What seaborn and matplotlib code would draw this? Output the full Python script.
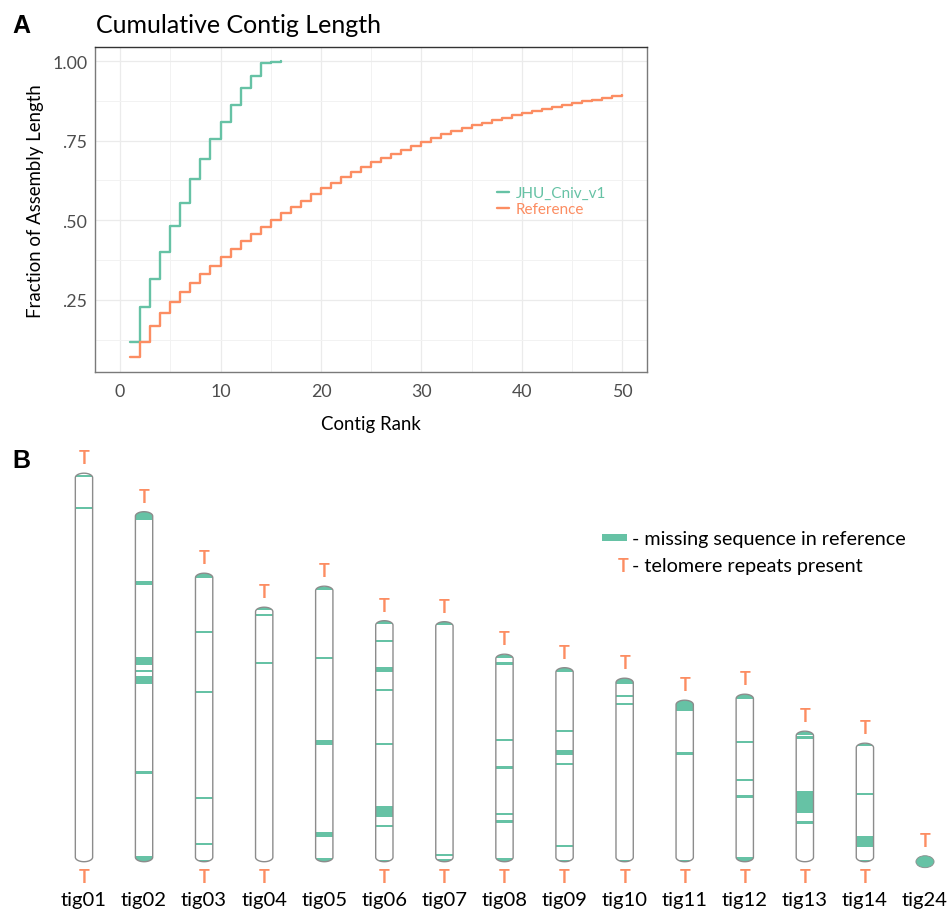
import matplotlib
matplotlib.use("Agg")
import matplotlib.pyplot as plt
from matplotlib.patches import Polygon, Rectangle, Ellipse
import numpy as np
import pandas as pd
import seaborn as sns

GREEN = "#66c2a5"
ORANGE = "#fc8d62"

# ---- panel A data: cumulative fraction of assembly length by contig rank
jhu_rank = list(range(1, 17))
jhu_frac = [0.119, 0.227, 0.316, 0.402, 0.481, 0.554, 0.630, 0.692,
            0.755, 0.810, 0.863, 0.914, 0.954, 0.993, 0.996, 1.000]

ref_rank = list(range(1, 51))
ref_frac = [0.071, 0.119, 0.169, 0.209, 0.243, 0.274, 0.303, 0.332, 0.358, 0.384,
            0.410, 0.434, 0.457, 0.478, 0.501, 0.522, 0.543, 0.562, 0.583, 0.600,
            0.617, 0.636, 0.653, 0.668, 0.682, 0.697, 0.708, 0.721, 0.734, 0.747,
            0.759, 0.770, 0.781, 0.790, 0.798, 0.806, 0.815, 0.822, 0.830, 0.836,
            0.843, 0.849, 0.856, 0.862, 0.868, 0.874, 0.879, 0.884, 0.889, 0.893]

# ---- panel B data: contig lengths (Mb) and missing-sequence bands (Mb from top)
contigs = ["tig01", "tig02", "tig03", "tig04", "tig05", "tig06", "tig07", "tig08",
           "tig09", "tig10", "tig11", "tig12", "tig13", "tig14", "tig24"]
lengths = [7.77, 7.00, 5.77, 5.09, 5.51, 4.82, 4.80, 4.15,
           3.88, 3.67, 3.23, 3.35, 2.61, 2.37, 0.24]
missing = [
    [(0.03, 0.07), (0.67, 0.71)],
    [(0, 0.17), (1.38, 1.47), (2.91, 3.06), (3.17, 3.21), (3.29, 3.45), (5.20, 5.23), (6.88, 7.00)],
    [(0, 0.10), (1.15, 1.19), (2.35, 2.39), (4.48, 4.51), (5.40, 5.44), (5.73, 5.77)],
    [(0, 0.06), (0.13, 0.17), (1.10, 1.14)],
    [(0.02, 0.07), (1.42, 1.46), (3.07, 3.17), (4.92, 5.02), (5.43, 5.51)],
    [(0.02, 0.05), (0.39, 0.42), (0.93, 1.03), (1.37, 1.40), (2.45, 2.49), (3.71, 3.92), (4.09, 4.13), (4.78, 4.82)],
    [(0.01, 0.07), (4.65, 4.68), (4.75, 4.80)],
    [(0.02, 0.07), (0.17, 0.20), (1.70, 1.74), (2.25, 2.28), (3.18, 3.21), (3.33, 3.36), (4.08, 4.15)],
    [(0, 0.09), (1.25, 1.29), (1.64, 1.74), (1.91, 1.94), (3.54, 3.58), (3.84, 3.88)],
    [(0, 0.11), (0.34, 0.37), (0.50, 0.54), (3.64, 3.67)],
    [(0, 0.21), (1.05, 1.08), (3.20, 3.23)],
    [(0, 0.10), (0.94, 0.97), (1.70, 1.73), (2.03, 2.06), (3.25, 3.35)],
    [(0.03, 0.06), (0.11, 0.14), (1.20, 1.63), (1.81, 1.84)],
    [(0.01, 0.05), (1.00, 1.04), (1.86, 2.08), (2.33, 2.37)],
    [(0, 0.24)],
]
telo_top = [True] * 15
telo_bottom = [True, False, True, True, False, True, True, True,
               True, True, True, True, True, True, False]


def configure_plot_style() -> None:
    sns.set_theme(style="whitegrid")
    plt.rcParams["font.family"] = ["Lato", "DejaVu Sans"]
    plt.rcParams["axes.edgecolor"] = "#7a7a7a"
    plt.rcParams["text.color"] = "black"


def draw_cumulative(ax) -> None:
    df = pd.concat([
        pd.DataFrame({"rank": jhu_rank, "frac": jhu_frac, "assembly": "JHU_Cniv_v1"}),
        pd.DataFrame({"rank": ref_rank, "frac": ref_frac, "assembly": "Reference"}),
    ])
    sns.lineplot(data=df, x="rank", y="frac", hue="assembly",
                 palette=[GREEN, ORANGE], drawstyle="steps-post",
                 linewidth=1.7, ax=ax)

    ax.set_xlim(-2.5, 52.5)
    ax.set_ylim(0.023, 1.043)
    ax.set_xticks(range(0, 51, 10))
    ax.set_xticks(range(5, 50, 10), minor=True)
    ax.set_yticks([0.25, 0.50, 0.75, 1.00], [".25", ".50", ".75", "1.00"])
    ax.set_yticks([0.125, 0.375, 0.625, 0.875], minor=True)
    ax.grid(which="major", color="#ebebeb", linewidth=0.9)
    ax.grid(which="minor", color="#f2f2f2", linewidth=0.7)
    ax.tick_params(axis="both", which="major", length=3, width=0.8,
                   color="#555555", labelcolor="#4d4d4d", labelsize=12.8)
    ax.tick_params(axis="x", pad=5)
    ax.tick_params(axis="y", pad=2.5)
    ax.tick_params(which="minor", length=0)
    for side in ("left", "bottom", "right"):
        ax.spines[side].set_color("#7a7a7a")
        ax.spines[side].set_linewidth(1.0)
    ax.spines["top"].set_color("#333333")
    ax.spines["top"].set_linewidth(1.0)

    ax.set_xlabel("Contig Rank", fontsize=13.4, color="black")
    ax.set_ylabel("Fraction of Assembly Length", fontsize=13.4, color="black")
    ax.xaxis.set_label_coords(0.5, -0.132)
    ax.yaxis.set_label_coords(-0.092, 0.53)

    leg = ax.legend(loc="center left", bbox_to_anchor=(0.728, 0.527),
                    frameon=False, fontsize=11, handlelength=0.8,
                    handletextpad=0.4, labelspacing=0.15,
                    borderpad=0, borderaxespad=0)
    for text, col in zip(leg.get_texts(), [GREEN, ORANGE]):
        text.set_color(col)


def contig_outline(x, length, hw, cap):
    t = np.linspace(np.pi, 0, 40)
    top = np.column_stack([x + hw * np.cos(t), length - cap + cap * np.sin(t)])
    t2 = np.linspace(0, -np.pi, 40)
    bot = np.column_stack([x + hw * np.cos(t2), cap + cap * np.sin(t2)])
    return np.vstack([top, bot])


def draw_contigs(ax) -> None:
    hw, cap = 0.144, 0.09
    min_band = 0.045
    ax.set_xlim(-0.398, 15.433)
    ax.set_ylim(-0.986, 8.454)
    ax.axis("off")

    for i, (name, length, bands) in enumerate(zip(contigs, lengths, missing)):
        x = i + 1
        if name == "tig24":
            ax.add_patch(Ellipse((x, 0), 2.1 * hw, length, facecolor=GREEN,
                                 edgecolor="#8c8c8c", linewidth=0.6))
            top_y = length / 2
        else:
            pts = contig_outline(x, length, hw, cap)
            body = Polygon(pts, closed=True, facecolor="white", edgecolor="none", zorder=1)
            ax.add_patch(body)
            for start, end in bands:
                mid = (start + end) / 2
                half = max(end - start, min_band) / 2
                band = Rectangle((x - hw, length - mid - half), 2 * hw, 2 * half,
                                 facecolor=GREEN, edgecolor="none", zorder=2)
                ax.add_patch(band)
                band.set_clip_path(body)
            ax.add_patch(Polygon(pts, closed=True, facecolor="none",
                                 edgecolor="#8c8c8c", linewidth=1.0, zorder=3))
            top_y = length
        if telo_top[i]:
            ax.text(x, top_y + 0.2, "T", color=ORANGE, fontsize=13,
                    fontweight="bold", ha="center", va="baseline")
        if telo_bottom[i]:
            ax.text(x, -0.41, "T", color=ORANGE, fontsize=13,
                    fontweight="bold", ha="center", va="baseline")
        ax.text(x, -0.876, name, fontsize=14.6, ha="center", va="baseline", color="black")

    # legend for panel B
    ax.add_patch(Rectangle((9.62, 6.41), 0.42, 0.14, facecolor=GREEN, edgecolor="none"))
    ax.text(10.12, 6.354, "- missing sequence in reference", fontsize=14.2,
            ha="left", va="baseline", color="black")
    ax.text(9.97, 5.82, "T", color=ORANGE, fontsize=13, fontweight="bold",
            ha="center", va="baseline")
    ax.text(10.12, 5.82, "- telomere repeats present", fontsize=14.2,
            ha="left", va="baseline", color="black")


def main() -> None:
    configure_plot_style()
    fig = plt.figure(figsize=(9.51, 9.12), dpi=100)

    ax_a = fig.add_axes([95 / 951, 1 - 373.3 / 912, 552.3 / 951, 325 / 912])
    draw_cumulative(ax_a)

    ax_b = fig.add_axes([0, 0, 1, 472 / 912])
    draw_contigs(ax_b)

    fig.text(96 / 951, 1 - 33 / 912, "Cumulative Contig Length", fontsize=18,
             ha="left", va="baseline", color="black")
    fig.text(12 / 951, 1 - 33 / 912, "A", fontsize=18, fontweight="bold", color="black",
             family=["Liberation Sans", "DejaVu Sans"], ha="left", va="baseline")
    fig.text(12 / 951, 1 - 468 / 912, "B", fontsize=18, fontweight="bold", color="black",
             family=["Liberation Sans", "DejaVu Sans"], ha="left", va="baseline")

    fig.savefig("out.png", dpi=100)
    plt.close(fig)


if __name__ == "__main__":
    main()
